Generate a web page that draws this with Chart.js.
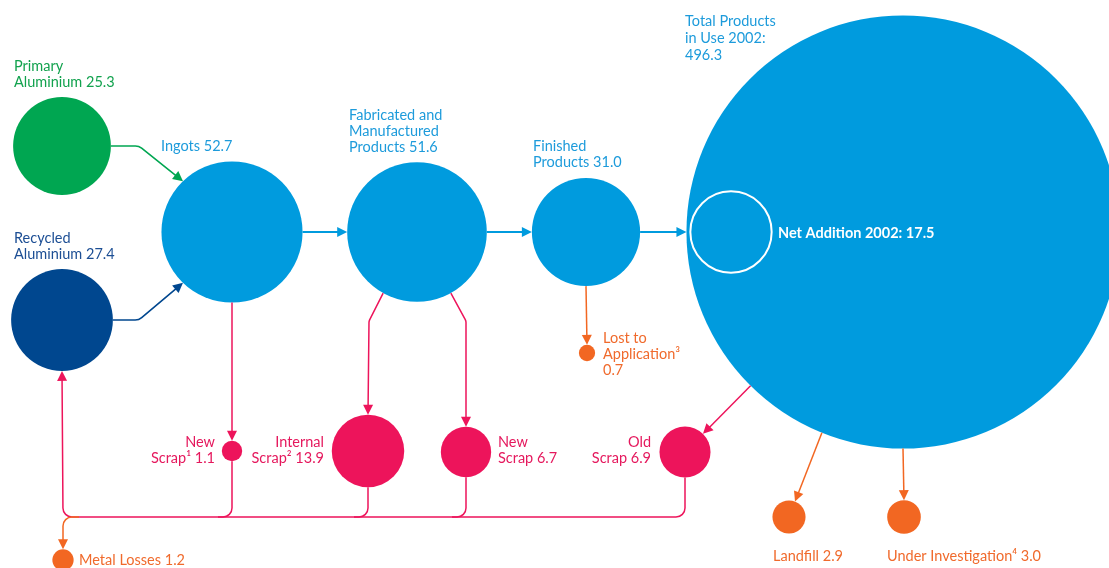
<!DOCTYPE html>
<html><head><meta charset="utf-8">
<script src="https://cdn.jsdelivr.net/npm/chart.js@4.4.1/dist/chart.umd.min.js"></script>
<style>html,body{margin:0;padding:0;background:#fff;overflow:hidden}</style>
</head><body>
<canvas id="c" width="1109" height="568"></canvas>
<script>
// ---------- DATA ----------
const nodeNames = ["Primary Aluminium","Recycled Aluminium","Ingots","Fabricated and Manufactured Products","Finished Products","Total Products in Use 2002","Net Addition 2002","New Scrap 1","Internal Scrap","New Scrap","Old Scrap","Lost to Application","Landfill","Under Investigation","Metal Losses"];
const nodeValues = [25.3, 27.4, 52.7, 51.6, 31.0, 496.3, 17.5, 1.1, 13.9, 6.7, 6.9, 0.7, 2.9, 3.0, 1.2];
const nodeKinds  = ["primary","recycled","product","product","product","product","net","scrap","scrap","scrap","scrap","loss","loss","loss","loss"];
const labelLines = [
  ["Primary","Aluminium {v}"],
  ["Recycled","Aluminium {v}"],
  ["Ingots {v}"],
  ["Fabricated and","Manufactured","Products {v}"],
  ["Finished","Products {v}"],
  ["Total Products","in Use 2002:","{v}"],
  ["Net Addition 2002: {v}"],
  ["New","Scrap\u00b9 {v}"],
  ["Internal","Scrap\u00b2 {v}"],
  ["New","Scrap {v}"],
  ["Old","Scrap {v}"],
  ["Lost to","Application\u00b3","{v}"],
  ["Landfill {v}"],
  ["Under Investigation\u2074 {v}"],
  ["Metal Losses {v}"]
];

// ---------- LAYOUT (positions / styles) ----------
const nodeX = [62, 62, 232, 417, 586, 903, 731, 232, 368, 466, 685, 587, 789, 904, 63];
const nodeY = [146, 320, 232, 232, 232, 232, 232, 451, 451, 452, 452, 353, 517, 517, 560];
const labelX = [14, 14, 161, 349, 533, 685, 778, 215, 324, 498, 651, 603, 773, 887, 79];
const labelY = [71, 243, 151, 120, 151, 26, 238, 446.5, 446.5, 446.5, 446.5, 343, 561, 561, 565];
const labelAlign = ["left","left","left","left","left","left","left","right","right","left","right","left","left","left","left"];
const lineGap = [16,16,16,16,16,17,16,16,16,16,16,16,16,16,16];
const RADIUS_K = 9.72; // area proportional to value
const busY = 517;
const kindColor = {primary:"#00A651", recycled:"#00478F", product:"#009BDE", net:"#009BDE", scrap:"#ED145B", loss:"#F26722"};
const textColor = {primary:"#12A24E", recycled:"#1C4E94", product:"#1D9BDB", net:"#FFFFFF", scrap:"#E5185D", loss:"#F06A2C"};
const FONT = "Lato, 'Open Sans', sans-serif";

const points = nodeValues.map((v, i) => ({x: nodeX[i], y: nodeY[i], r: RADIUS_K * Math.sqrt(v)}));

const flowPlugin = {
  id: 'flow',
  afterDatasetsDraw(chart) {
    const ctx = chart.ctx, sx = chart.scales.x, sy = chart.scales.y;
    const meta = chart.getDatasetMeta(0);
    const P = i => ({x: meta.data[i].x, y: meta.data[i].y});
    const R = i => points[i].r;
    const edge = (i, deg) => { const a = deg * Math.PI / 180, p = P(i); return {x: p.x + R(i) * Math.cos(a), y: p.y + R(i) * Math.sin(a)}; };
    const toward = (i, j) => { const a = P(i), b = P(j); return Math.atan2(b.y - a.y, b.x - a.x) * 180 / Math.PI; };
    const by = sy.getPixelForValue(busY);

    function path(pts, color, lw, arrow, rad) {
      ctx.save();
      ctx.strokeStyle = color; ctx.fillStyle = color; ctx.lineWidth = lw;
      ctx.lineJoin = 'round'; ctx.lineCap = 'butt';
      const n = pts.length;
      let last = pts[n - 1];
      const prev = pts[n - 2];
      const AL = 10, AW = 5;
      let end = last;
      if (arrow) {
        const dx = last.x - prev.x, dy = last.y - prev.y, d = Math.hypot(dx, dy);
        end = {x: last.x - dx / d * (AL - 1), y: last.y - dy / d * (AL - 1)};
      }
      ctx.beginPath();
      ctx.moveTo(pts[0].x, pts[0].y);
      for (let k = 1; k < n - 1; k++) { const nx = (k + 1 === n - 1 ? end : pts[k + 1]); ctx.arcTo(pts[k].x, pts[k].y, nx.x, nx.y, rad || 8); }
      ctx.lineTo(end.x, end.y);
      ctx.stroke();
      if (arrow) {
        const dx = last.x - prev.x, dy = last.y - prev.y, d = Math.hypot(dx, dy);
        const ux = dx / d, uy = dy / d;
        ctx.beginPath();
        ctx.moveTo(last.x, last.y);
        ctx.lineTo(last.x - ux * AL - uy * AW, last.y - uy * AL + ux * AW);
        ctx.lineTo(last.x - ux * AL + uy * AW, last.y - uy * AL - ux * AW);
        ctx.closePath();
        ctx.fill();
      }
      ctx.restore();
    }
    const blue = kindColor.product, pink = kindColor.scrap, orange = kindColor.loss;

    // inputs to ingots
    let a = edge(0, 0); path([a, {x: a.x + 28, y: a.y}, edge(2, -134)], kindColor.primary, 1.6, true, 10);
    a = edge(1, 0); path([a, {x: a.x + 26, y: a.y}, edge(2, 134)], kindColor.recycled, 1.6, true, 10);
    // main chain
    path([edge(2, 0), edge(3, 180)], blue, 1.8, true);
    path([edge(3, 0), edge(4, 180)], blue, 1.8, true);
    path([edge(4, 0), edge(5, 180)], blue, 1.8, true);
    // scrap generation
    path([edge(2, 90), edge(7, -90)], pink, 1.5, true);
    a = edge(3, 119); path([a, {x: P(8).x + 1, y: a.y + 28}, edge(8, -90)], pink, 1.5, true, 6);
    a = edge(3, 61); path([a, {x: P(9).x, y: a.y + 28}, edge(9, -90)], pink, 1.5, true, 6);
    path([edge(4, 90), edge(11, -90)], orange, 1.5, true);
    path([edge(5, toward(5, 10)), edge(10, toward(10, 5))], pink, 1.5, true);
    a = edge(5, 112); { const e = P(12); const ang = Math.atan2(a.y - e.y, a.x - e.x) * 180 / Math.PI; path([a, edge(12, ang)], orange, 1.5, true); }
    path([edge(5, 90), edge(13, -90)], orange, 1.5, true);
    // return bus
    path([edge(10, 90), {x: P(10).x, y: by}, {x: P(14).x, y: by}, edge(1, 90)], pink, 1.5, true, 9);
    [9, 8, 7].forEach(i => path([edge(i, 90), {x: P(i).x, y: by}, {x: P(i).x - 14, y: by}], pink, 1.5, false, 9));
    path([{x: P(14).x + 16, y: by}, {x: P(14).x, y: by}, edge(14, -90)], orange, 1.5, true, 9);

    // labels
    ctx.save();
    ctx.textBaseline = 'alphabetic';
    labelLines.forEach((lines, i) => {
      const kind = nodeKinds[i];
      ctx.fillStyle = textColor[kind];
      ctx.font = (kind === 'net' ? 'bold ' : '') + '14.5px ' + FONT;
      ctx.textAlign = labelAlign[i];
      const x0 = sx.getPixelForValue(labelX[i]);
      lines.forEach((ln, k) => {
        const txt = ln.replace('{v}', nodeValues[i].toFixed(1));
        ctx.fillText(txt, x0, sy.getPixelForValue(labelY[i] + k * lineGap[i]));
      });
    });
    ctx.restore();
  }
};

new Chart(document.getElementById('c'), {
  type: 'bubble',
  data: {
    labels: nodeNames,
    datasets: [{
      data: points,
      backgroundColor: nodeKinds.map(k => k === 'net' ? 'rgba(0,0,0,0)' : kindColor[k]),
      borderColor: nodeKinds.map(k => k === 'net' ? '#FFFFFF' : kindColor[k]),
      borderWidth: nodeKinds.map(k => k === 'net' ? 2 : 0),
      clip: false
    }]
  },
  options: {
    responsive: false,
    animation: false,
    devicePixelRatio: 1,
    events: [],
    layout: {padding: 0, autoPadding: false},
    plugins: {legend: {display: false}, tooltip: {enabled: false}},
    scales: {
      x: {type: 'linear', min: 0, max: 1109, display: false},
      y: {type: 'linear', min: 0, max: 568, reverse: true, display: false}
    }
  },
  plugins: [flowPlugin]
});
</script>
</body></html>
